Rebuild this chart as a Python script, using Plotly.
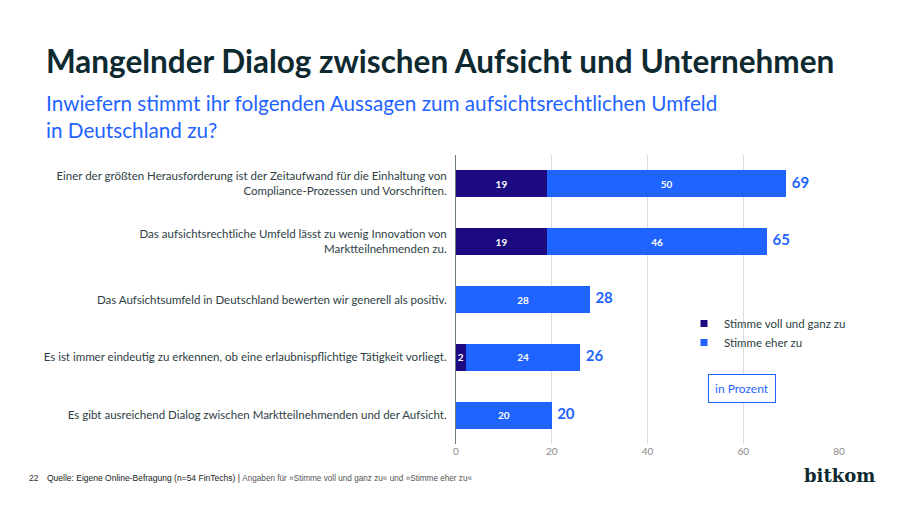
import plotly.graph_objects as go

categories = [
    "Einer der größten Herausforderung ist der Zeitaufwand für die Einhaltung von<br>Compliance-Prozessen und Vorschriften.",
    "Das aufsichtsrechtliche Umfeld lässt zu wenig Innovation von<br>Marktteilnehmenden zu.",
    "Das Aufsichtsumfeld in Deutschland bewerten wir generell als positiv.",
    "Es ist immer eindeutig zu erkennen, ob eine erlaubnispflichtige Tätigkeit vorliegt.",
    "Es gibt ausreichend Dialog zwischen Marktteilnehmenden und der Aufsicht.",
]
voll = [19, 19, 0, 2, 0]
eher = [50, 46, 28, 24, 20]
totals = [69, 65, 28, 26, 20]
x_ticks = [0, 20, 40, 60, 80]
series_names = ["Stimme voll und ganz zu", "Stimme eher zu"]

NAVY = "#1b0a80"
BLUE = "#1f64ff"
FONT = "Lato, 'Noto Sans', sans-serif"

fig = go.Figure()
for vals, name, col in [(voll, series_names[0], NAVY), (eher, series_names[1], BLUE)]:
    fig.add_trace(go.Bar(
        y=categories, x=vals, orientation="h", name=name,
        marker=dict(color=col, line=dict(width=0)),
        text=[str(v) if v > 0 else "" for v in vals], textposition="inside",
        insidetextanchor="middle", constraintext="none",
        textfont=dict(color="white", size=10, family=FONT, weight="bold"),
        width=0.47, hoverinfo="skip", showlegend=False,
    ))
    # legend proxies (small square symbols)
    fig.add_trace(go.Scatter(
        x=[None], y=[None], mode="markers", name=name,
        marker=dict(symbol="square", size=7, color=col),
        showlegend=True, hoverinfo="skip",
    ))

fig.add_trace(go.Scatter(
    y=categories, x=totals, mode="markers+text", text=[str(t) for t in totals],
    textposition="middle right",
    marker=dict(size=7, color="rgba(0,0,0,0)"),
    textfont=dict(color=BLUE, size=15, family=FONT, weight="bold"),
    showlegend=False, hoverinfo="skip",
))

PL, PR, PT, PB = 456, 839, 155, 444
PW, PH = PR - PL, PB - PT

def px(x, y):
    return (x - PL) / PW, (PB - y) / PH

lgx, lgy = px(684, 309)
fig.update_layout(
    width=900, height=506,
    margin=dict(l=PL, r=900 - PR, t=PT, b=506 - PB, autoexpand=False),
    paper_bgcolor="white", plot_bgcolor="white",
    barmode="stack",
    font=dict(family=FONT, color="#2e3e44"),
    showlegend=True,
    legend=dict(
        x=lgx, y=lgy, xanchor="left", yanchor="top",
        font=dict(size=11.5, color="#2e3e44", family=FONT),
        traceorder="normal", bgcolor="rgba(0,0,0,0)",
        itemwidth=30, tracegroupgap=0,
    ),
    xaxis=dict(
        range=[0, 80], tickvals=x_ticks, showgrid=True, gridcolor="#dcdcdc",
        gridwidth=1, zeroline=False, showline=False,
        tickfont=dict(size=10, color="#8a8a8a", family=FONT), ticks="",
    ),
    yaxis=dict(
        range=[4.5, -0.5], showline=True, linecolor="#6b7b80", linewidth=1,
        showgrid=False, ticks="", ticklabelstandoff=6,
        tickfont=dict(size=11.5, color="#2e3e44", family=FONT),
    ),
)

tx, ty = px(44, 61)
fig.add_annotation(xref="paper", yref="paper", x=tx, y=ty,
    text="<b>Mangelnder Dialog zwischen Aufsicht und Unternehmen</b>",
    showarrow=False, xanchor="left", yanchor="middle",
    font=dict(size=31.5, color="#0e2a30", family=FONT))

sx, sy = px(44, 103)
fig.add_annotation(xref="paper", yref="paper", x=sx, y=sy,
    text="Inwiefern stimmt ihr folgenden Aussagen zum aufsichtsrechtlichen Umfeld",
    showarrow=False, xanchor="left", yanchor="middle",
    font=dict(size=20.7, color=BLUE, family=FONT))
sx, sy = px(44, 130)
fig.add_annotation(xref="paper", yref="paper", x=sx, y=sy,
    text="in Deutschland zu?",
    showarrow=False, xanchor="left", yanchor="middle",
    font=dict(size=20.7, color=BLUE, family=FONT))

bx, by = px(742, 388)
fig.add_annotation(xref="paper", yref="paper", x=bx, y=by,
    text="in Prozent", showarrow=False, xanchor="center", yanchor="middle",
    font=dict(size=12, color=BLUE, family=FONT),
    bordercolor=BLUE, borderwidth=1, borderpad=6, bgcolor="white")

fx, fy = px(27, 478)
fig.add_annotation(xref="paper", yref="paper", x=fx, y=fy,
    text="22", showarrow=False, xanchor="left", yanchor="middle",
    font=dict(size=8.5, color="#333333", family="Liberation Sans"))
fx, fy = px(45, 478)
fig.add_annotation(xref="paper", yref="paper", x=fx, y=fy,
    text="Quelle: Eigene Online-Befragung (n=54 FinTechs) | <span style='color:#555555;font-size:8.2px'>Angaben für »Stimme voll und ganz zu« und »Stimme eher zu«</span>",
    showarrow=False, xanchor="left", yanchor="middle",
    font=dict(size=8.5, color="#222222", family="Liberation Sans"))
lx, ly = px(877, 475)
fig.add_annotation(xref="paper", yref="paper", x=lx, y=ly,
    text="<b>bitkom</b>", showarrow=False, xanchor="right", yanchor="middle",
    font=dict(size=18, color="#0e2a30", family="DejaVu Serif"))

fig.write_html("out.html")
